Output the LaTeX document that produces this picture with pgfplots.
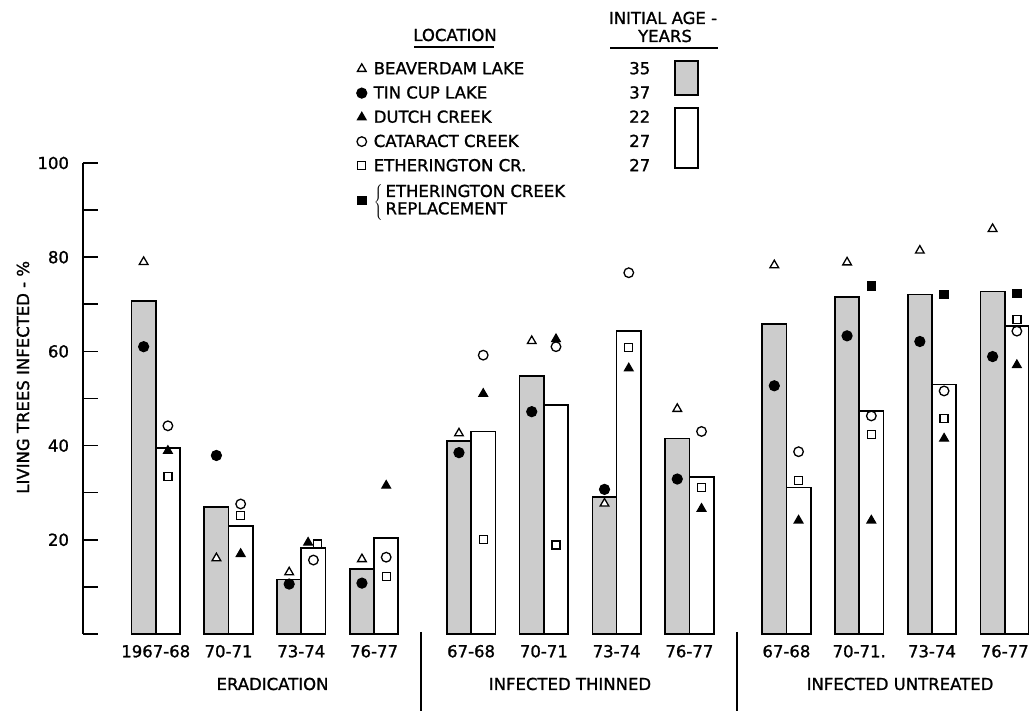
\documentclass[border=0pt]{standalone}
\usepackage{pgfplots}
\pgfplotsset{compat=1.18}
\usepackage{fontspec}
\setmainfont{DejaVu Sans}[FakeBold=1.2]
\newcommand{\lf}{\fontsize{16.5}{19}\selectfont}
\pgfplotsset{replleg/.style={legend image code/.code={\draw[##1] plot coordinates {(0pt,-10.5pt)};}}}
\begin{document}
\begin{tikzpicture}
\begin{axis}[
  scale only axis,
  width=946pt, height=471pt,
  xmin=-3, xmax=36, ymin=0, ymax=100,
  clip=false,
  axis y line=left, axis x line=bottom,
  axis line style={-, line width=1.6pt, black},
  x axis line style={draw=none},
  xtick={0,3,6,9,13,16,19,22,26,29,32,35},
  xticklabels={1967-68,70-71,73-74,76-77,67-68,70-71,73-74,76-77,67-68,{70-71.},73-74,76-77},
  every x tick/.style={draw=none},
  ytick={0,10,...,100},
  yticklabels={,,20,,40,,60,,80,,100},
  every y tick/.style={line width=1.6pt, black},
  tick align=inside,
  major tick length=15pt,
  ticklabel style={font=\lf},
  yticklabel style={xshift=-10.5pt},
  xticklabel style={yshift=-7.5pt},
  ylabel={LIVING TREES INFECTED - \%},
  every axis y label/.style={at={(rel axis cs:-0.0634,0.545)}, rotate=90, anchor=center, font=\lf},
  legend cell align=left,
  legend columns=1,
  legend image code/.code={\draw[#1] plot coordinates {(0pt,0pt)};},
  legend style={at={(axis cs:8.287,121.87)}, anchor=north west, draw=none, fill=none,
    inner sep=0pt, outer sep=0pt, row sep=6.5pt, column sep=5pt,
    nodes={inner sep=2pt, font=\lf}},
]
% shaded bars (Beaverdam Lake / Tin Cup Lake)
\addplot[ybar, bar width=1, bar shift=0pt, fill=black!20, draw=black, line width=1.7pt, forget plot]
  coordinates {(-0.5,70.7) (2.5,27.0) (5.5,11.6) (8.5,13.8)
               (12.5,41.0) (15.5,54.8) (18.5,29.1) (21.5,41.5)
               (25.5,65.8) (28.5,71.6) (31.5,72.1) (34.5,72.7)};
% white bars (Dutch / Cataract / Etherington)
\addplot[ybar, bar width=1, bar shift=0pt, fill=white, draw=black, line width=1.7pt, forget plot]
  coordinates {(0.5,39.5) (3.5,23.0) (6.5,18.2) (9.5,20.4)
               (13.5,43.0) (16.5,48.6) (19.5,64.3) (22.5,33.3)
               (26.5,31.1) (29.5,47.4) (32.5,53.0) (35.5,65.4)};
% Beaverdam Lake
\addplot[only marks, mark=triangle*, mark size=5pt, line width=1.3pt, mark options={fill=white, draw=black}]
  coordinates {(-0.5,79.0) (2.5,16.1) (5.5,13.1) (8.5,15.9)
               (12.5,42.6) (15.5,62.2) (18.5,27.7) (21.5,47.8)
               (25.5,78.3) (28.5,78.9) (31.5,81.4) (34.5,86.0)};
\addlegendentry{\makebox[254pt][l]{BEAVERDAM LAKE}\makebox[24pt]{35}}
% Tin Cup Lake
\addplot[only marks, mark=*, mark size=5pt, line width=1.2pt, mark options={fill=black, draw=black}]
  coordinates {(-0.5,61.0) (2.5,37.9) (5.5,10.6) (8.5,10.8)
               (12.5,38.5) (15.5,47.2) (18.5,30.7) (21.5,32.9)
               (25.5,52.7) (28.5,63.3) (31.5,62.1) (34.5,58.9)};
\addlegendentry{\makebox[254pt][l]{TIN CUP LAKE}\makebox[24pt]{37}}
% Dutch Creek
\addplot[only marks, mark=triangle*, mark size=5pt, line width=1.2pt, mark options={fill=black, draw=black}]
  coordinates {(0.5,38.9) (3.5,17.0) (6.28,19.4) (9.5,31.5)
               (13.5,51.0) (16.5,62.6) (19.5,56.4) (22.5,26.6)
               (26.5,24.1) (29.5,24.1) (32.5,41.5) (35.5,57.1)};
\addlegendentry{\makebox[254pt][l]{DUTCH CREEK}\makebox[24pt]{22}}
% Cataract Creek
\addplot[only marks, mark=*, mark size=4.8pt, line width=1.3pt, mark options={fill=white, draw=black}]
  coordinates {(0.5,44.2) (3.5,27.6) (6.5,15.7) (9.5,16.3)
               (13.5,59.2) (16.5,61.0) (19.5,76.7) (22.5,43.0)
               (26.5,38.7) (29.5,46.3) (32.5,51.6) (35.5,64.3)};
\addlegendentry{\makebox[254pt][l]{CATARACT CREEK}\makebox[24pt]{27}}
% Etherington Cr.
\addplot[only marks, mark=square*, mark size=4pt, line width=1.3pt, mark options={fill=white, draw=black}]
  coordinates {(0.5,33.5) (3.5,25.2) (6.67,19.1) (9.5,12.2)
               (13.5,20.0) (16.5,18.9) (19.5,60.8) (22.5,31.1)
               (26.5,32.6) (29.5,42.3) (32.5,45.8) (35.5,66.7)};
\addlegendentry{\makebox[254pt][l]{ETHERINGTON CR.}\makebox[24pt]{27}}
% Etherington Creek replacement
\addplot[only marks, mark=square*, mark size=4.2pt, line width=1.2pt, mark options={fill=black, draw=black}, replleg]
  coordinates {(29.5,73.9) (32.5,72.1) (35.5,72.3)};
\addlegendentry{\rule{0pt}{12pt}\raisebox{-11.2pt}[0pt][0pt]{$\left\{\,\vcenter{\hbox{\renewcommand\arraystretch{0.9}\begin{tabular}{@{}l@{}}ETHERINGTON CREEK\\REPLACEMENT\end{tabular}}}\right.$}}
\coordinate (O) at (axis cs:-3,0);
\end{axis}
\begin{scope}[shift={(O)}]
\begin{scope}[x=1pt, y=-1pt, shift={(-83,-634)}]
  \draw[line width=1.6pt] (420.7,632) -- (420.7,711);
  \draw[line width=1.6pt] (737,632) -- (737,711);
  \node[font=\lf] at (272.5,684) {ERADICATION};
  \node[font=\lf] at (570,684) {INFECTED THINNED};
  \node[font=\lf] at (900,684) {INFECTED UNTREATED};
  \node[font=\lf] at (455,35) {LOCATION};
  \draw[line width=1.3pt] (414,47) -- (494,47);
  \node[font=\lf] at (663,18) {INITIAL AGE -};
  \node[font=\lf] at (665,36) {YEARS};
  \draw[line width=1.3pt] (610,48) -- (718,48);
  \draw[fill=black!20, line width=1.7pt] (675,61) rectangle (698,95);
  \draw[line width=1.7pt] (675,108) rectangle (698,168);
  \pgfresetboundingbox
  \path (0,0) rectangle (1029,711);
\end{scope}
\end{scope}
\end{tikzpicture}
\end{document}
